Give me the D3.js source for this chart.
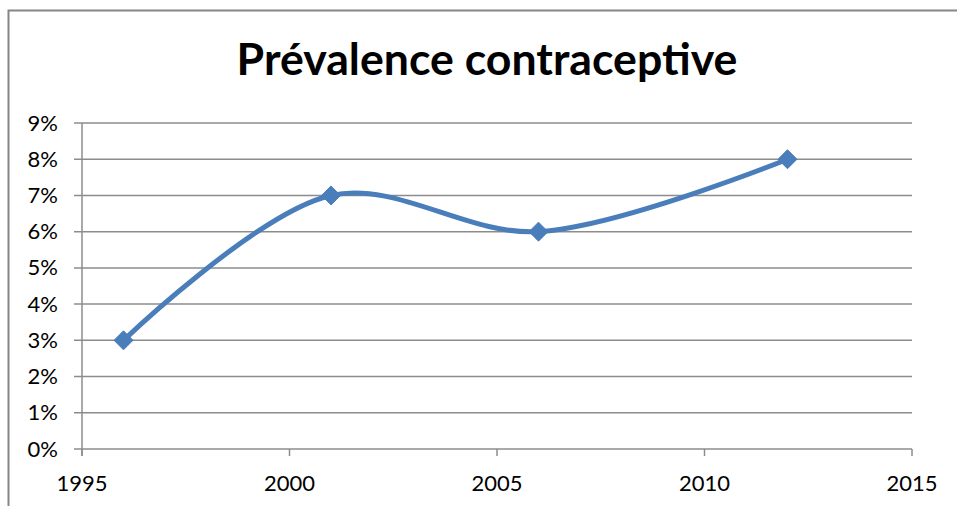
<!DOCTYPE html>
<html><head><meta charset="utf-8">
<script src="https://cdn.jsdelivr.net/npm/d3@7"></script>
<style>body{margin:0;background:#fff;}svg{display:block;}</style>
</head><body>
<svg id="c" width="957" height="506"></svg>
<script>
const title = "Prévalence contraceptive";
const years = [1996, 2001, 2006, 2012];
const values = [0.03, 0.07, 0.06, 0.08];
const xTicks = [1995, 2000, 2005, 2010, 2015];
const yTicks = [0, 0.01, 0.02, 0.03, 0.04, 0.05, 0.06, 0.07, 0.08, 0.09];

const svg = d3.select("#c");
const font = "Lato, 'Open Sans', sans-serif";
// chart border
svg.append("rect").attr("x", 8.5).attr("y", 10.5).attr("width", 1000).attr("height", 600)
  .attr("fill", "#fff").attr("stroke", "#868686").attr("stroke-width", 2);

const x = d3.scaleLinear().domain([1995, 2015]).range([82, 912]);
const y = d3.scaleLinear().domain([0, 0.09]).range([449, 123]);

// gridlines
svg.append("g").selectAll("line").data(yTicks).join("line")
  .attr("x1", 74).attr("x2", 912).attr("y1", d => y(d)).attr("y2", d => y(d))
  .attr("stroke", "#8c8c8c").attr("stroke-width", 1.5);
// y axis line
svg.append("line").attr("x1", 82).attr("x2", 82).attr("y1", y(0.09)).attr("y2", 456)
  .attr("stroke", "#8c8c8c").attr("stroke-width", 1.5);
// x ticks
svg.append("g").selectAll("line").data(xTicks).join("line")
  .attr("x1", d => x(d)).attr("x2", d => x(d)).attr("y1", 449).attr("y2", 456)
  .attr("stroke", "#8c8c8c").attr("stroke-width", 1.5);

// y labels
svg.append("g").selectAll("text").data(yTicks).join("text")
  .attr("x", 58).attr("y", d => y(d) + 7.5).attr("text-anchor", "end")
  .attr("font-family", font).attr("font-size", 22).attr("fill", "#000")
  .text(d => d3.format(".0%")(d));
// x labels
svg.append("g").selectAll("text").data(xTicks).join("text")
  .attr("x", d => x(d)).attr("y", 491).attr("text-anchor", "middle")
  .attr("font-family", font).attr("font-size", 22).attr("fill", "#000")
  .text(d => d);

// title
const t = svg.append("text").attr("x", 487).attr("y", 75).attr("text-anchor", "middle")
  .attr("font-family", font).attr("font-weight", "bold").attr("font-size", 38).attr("fill", "#000")
  .text(title);
const w = t.node().getComputedTextLength();
t.attr("font-size", 38 * 501 / w);

// line
const data = years.map((yr, i) => [yr, values[i]]);
svg.append("path").datum(data)
  .attr("d", d3.line().x(d => x(d[0])).y(d => y(d[1])).curve(d3.curveCatmullRom.alpha(0.5)))
  .attr("fill", "none").attr("stroke", "#4a7ebb").attr("stroke-width", 5);
// markers
svg.append("g").selectAll("path").data(data).join("path")
  .attr("transform", d => `translate(${x(d[0])},${y(d[1])})`)
  .attr("d", "M0,-9.5L9.5,0L0,9.5L-9.5,0Z").attr("fill", "#4a7ebb").attr("stroke", "#4a7ebb").attr("stroke-width", 1);
</script>
</body></html>
